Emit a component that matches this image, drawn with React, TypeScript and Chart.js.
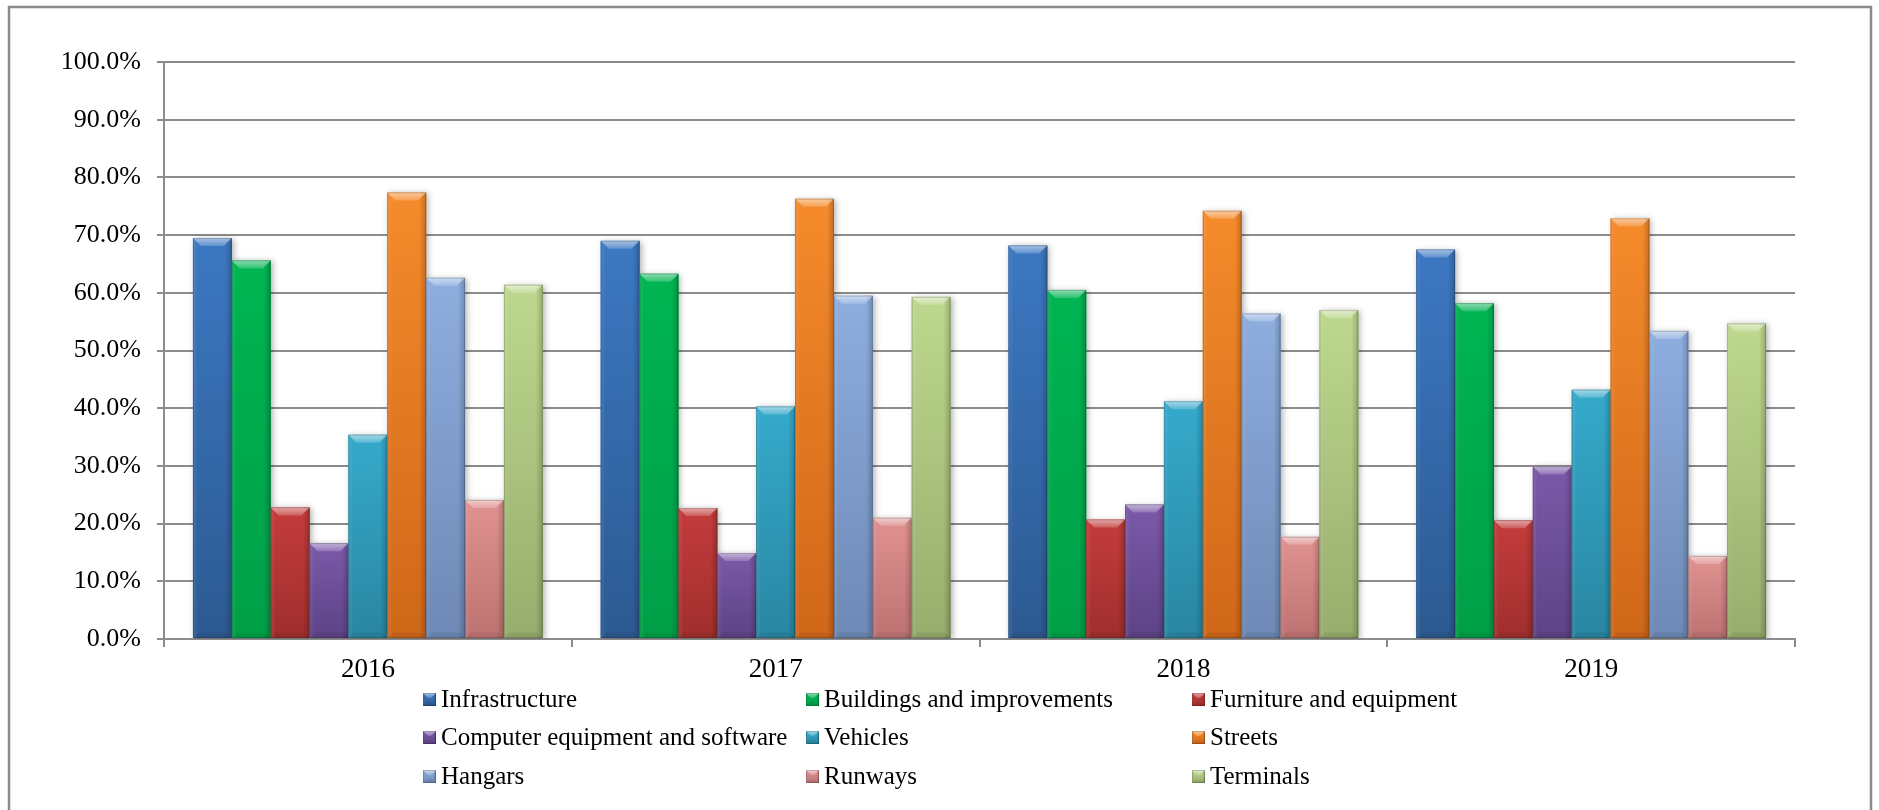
import React, { useEffect, useRef } from 'react';
import { Chart, registerables } from 'chart.js';

Chart.register(...registerables);

// Fiscal years on the category axis
const years = ['2016', '2017', '2018', '2019'];

// Asset classes (legend order = bar order inside each year)
const seriesNames = [
  'Infrastructure',
  'Buildings and improvements',
  'Furniture and equipment',
  'Computer equipment and software',
  'Vehicles',
  'Streets',
  'Hangars',
  'Runways',
  'Terminals',
];

// Percent values per year (2016..2019)
const infrastructure = [69.5, 69.0, 68.2, 67.5];
const buildings = [65.6, 63.3, 60.5, 58.2];
const furniture = [22.8, 22.7, 20.7, 20.6];
const computer = [16.6, 14.9, 23.3, 29.9];
const vehicles = [35.4, 40.3, 41.2, 43.2];
const streets = [77.4, 76.3, 74.2, 72.9];
const hangars = [62.6, 59.5, 56.4, 53.4];
const runways = [24.1, 21.0, 17.7, 14.4];
const terminals = [61.4, 59.3, 57.0, 54.7];

const seriesValues = [
  infrastructure,
  buildings,
  furniture,
  computer,
  vehicles,
  streets,
  hangars,
  runways,
  terminals,
];

// Top / bottom shades for each series' gradient
const topColors = ['#3C78C2', '#00B552', '#C43C3C', '#7B59A9', '#35AACB', '#F58B2B', '#8EAEDF', '#E09290', '#BDD88E'];
const bottomColors = ['#2C5A92', '#009F47', '#A02F2D', '#5D4386', '#2986A2', '#CF6719', '#6E89B5', '#BD7372', '#97AD6D'];

const FONT = '"Liberation Serif", "Times New Roman", serif';
const AXIS_GREY = '#8c8c8c';

function fillBevelRect(
  ctx: CanvasRenderingContext2D,
  l: number,
  t: number,
  r: number,
  b: number,
  top: string,
  bottom: string,
  bevel: number,
) {
  const w = r - l;
  const h = b - t;
  if (w <= 0 || h <= 0) return;
  // body gradient
  const g = ctx.createLinearGradient(0, t, 0, b);
  g.addColorStop(0, top);
  g.addColorStop(1, bottom);
  ctx.fillStyle = g;
  ctx.fillRect(l, t, w, h);

  // side shading: light left edge, darker right edge
  const hg = ctx.createLinearGradient(l, 0, r, 0);
  hg.addColorStop(0, 'rgba(255,255,255,0.10)');
  hg.addColorStop(0.12, 'rgba(255,255,255,0)');
  hg.addColorStop(0.82, 'rgba(0,0,0,0)');
  hg.addColorStop(1, 'rgba(0,0,0,0.20)');
  ctx.fillStyle = hg;
  ctx.fillRect(l, t, w, h);

  const bv = Math.min(bevel, h / 2, w / 2);
  // top bevel facet
  const tg = ctx.createLinearGradient(0, t, 0, t + bv);
  tg.addColorStop(0, 'rgba(255,255,255,0.55)');
  tg.addColorStop(1, 'rgba(255,255,255,0.18)');
  ctx.fillStyle = tg;
  ctx.beginPath();
  ctx.moveTo(l, t);
  ctx.lineTo(r, t);
  ctx.lineTo(r - bv, t + bv);
  ctx.lineTo(l + bv, t + bv);
  ctx.closePath();
  ctx.fill();

  // bottom bevel facet
  const bb = Math.min(bv * 0.7, h / 3);
  ctx.fillStyle = 'rgba(0,0,0,0.07)';
  ctx.beginPath();
  ctx.moveTo(l, b);
  ctx.lineTo(r, b);
  ctx.lineTo(r - bb, b - bb);
  ctx.lineTo(l + bb, b - bb);
  ctx.closePath();
  ctx.fill();

  // thin outline
  ctx.strokeStyle = 'rgba(0,0,0,0.18)';
  ctx.lineWidth = 1;
  ctx.strokeRect(l + 0.5, t + 0.5, w - 1, h - 1);
}

const decorPlugin = {
  id: 'decor',
  beforeDraw(chart: any) {
    const { ctx, width, height } = chart;
    ctx.save();
    ctx.fillStyle = '#ffffff';
    ctx.fillRect(0, 0, width, height);
    ctx.strokeStyle = '#8a8a8a';
    ctx.lineWidth = 2.5;
    ctx.strokeRect(9, 7, width - 17, height + 20);
    ctx.restore();
  },
  beforeDatasetsDraw(chart: any) {
    const ctx = chart.ctx;
    ctx.save();
    ctx.shadowColor = 'rgba(0,0,0,0.30)';
    ctx.shadowBlur = 6;
    ctx.shadowOffsetX = 2;
    ctx.shadowOffsetY = 1;
  },
  afterDatasetsDraw(chart: any) {
    const ctx = chart.ctx;
    ctx.restore();
    ctx.save();
    chart.data.datasets.forEach((_ds: any, di: number) => {
      const meta = chart.getDatasetMeta(di);
      meta.data.forEach((el: any) => {
        const p = el.getProps(['x', 'y', 'base', 'width'], true);
        const l = p.x - p.width / 2;
        const r = p.x + p.width / 2;
        const t = Math.min(p.y, p.base);
        const b = Math.max(p.y, p.base);
        fillBevelRect(ctx, l, t, r, b, topColors[di], bottomColors[di], 8);
      });
    });
    ctx.restore();
  },
  afterDraw(chart: any) {
    // three-column legend below the category labels
    const ctx = chart.ctx;
    const colX = [423, 806, 1192];
    const rowBase = [707, 745, 784];
    const box = 13;
    ctx.save();
    chart.data.datasets.forEach((ds: any, i: number) => {
      const x = colX[i % 3];
      const yb = rowBase[Math.floor(i / 3)];
      const top = yb - box - 1;
      fillBevelRect(ctx, x, top, x + box, top + box, topColors[i], bottomColors[i], 5);
      ctx.font = '25px "Liberation Serif"';
      ctx.fillStyle = '#000000';
      ctx.textBaseline = 'alphabetic';
      ctx.textAlign = 'left';
      ctx.fillText(ds.label, x + box + 5, yb);
    });
    ctx.restore();
  },
};

export default function App() {
  const canvasRef = useRef<HTMLCanvasElement | null>(null);

  useEffect(() => {
    const canvas = canvasRef.current;
    if (!canvas) return;

    const datasets = seriesNames.map((name, i) => ({
      label: name,
      data: seriesValues[i],
      backgroundColor: topColors[i],
      borderWidth: 0,
      categoryPercentage: 0.858,
      barPercentage: 1.0,
    }));

    const chart = new Chart(canvas, {
      type: 'bar',
      data: { labels: years, datasets },
      options: {
        responsive: false,
        animation: false,
        devicePixelRatio: 1,
        layout: { padding: { top: 62, right: 84, left: 0, bottom: 0 } },
        plugins: {
          legend: { display: false },
          tooltip: { enabled: false },
        },
        scales: {
          x: {
            offset: true,
            grid: {
              offset: true,
              drawOnChartArea: false,
              drawTicks: true,
              tickLength: 8,
              color: AXIS_GREY,
              lineWidth: 2,
            },
            border: { display: true, color: AXIS_GREY, width: 2 },
            ticks: {
              padding: 7,
              color: '#000',
              font: { family: FONT, size: 27 },
            },
            afterFit: (scale: any) => {
              scale.height = 171;
            },
          },
          y: {
            min: 0,
            max: 100,
            ticks: {
              stepSize: 10,
              padding: 16,
              color: '#000',
              font: { family: FONT, size: 26 },
              callback: (v: any) => `${Number(v).toFixed(1)}%`,
            },
            grid: {
              color: AXIS_GREY,
              lineWidth: 2,
              drawTicks: true,
              tickLength: 7,
            },
            border: { display: true, color: AXIS_GREY, width: 2 },
            afterFit: (scale: any) => {
              scale.width = 164;
            },
          },
        },
      },
      plugins: [decorPlugin],
    });

    return () => chart.destroy();
  }, []);

  return (
    <div style={{ position: 'absolute', left: 0, top: 0, width: 1879, height: 810, overflow: 'hidden' }}>
      <canvas ref={canvasRef} width={1879} height={810} style={{ display: 'block' }} />
    </div>
  );
}
